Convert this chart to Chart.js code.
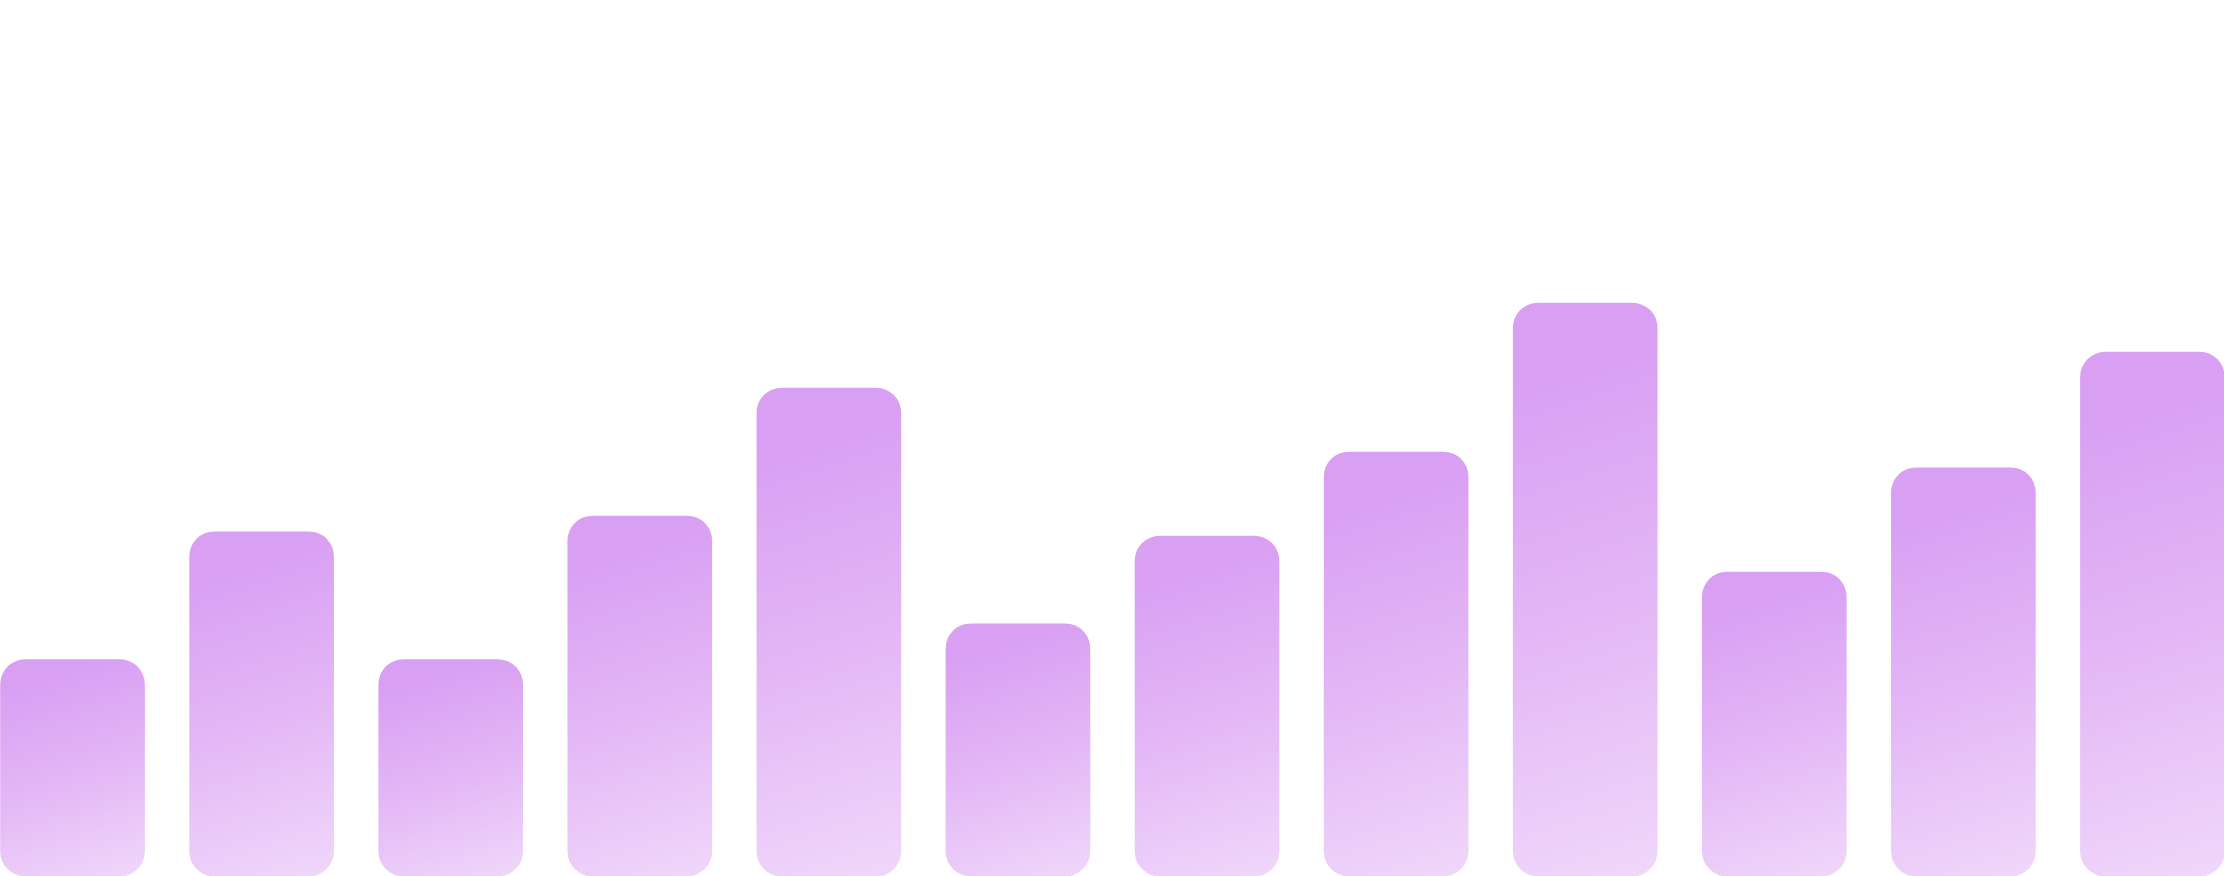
<!DOCTYPE html>
<html>
<head>
<meta charset="utf-8">
<script src="https://cdn.jsdelivr.net/npm/chart.js@4/dist/chart.umd.min.js"></script>
<style>
html,body{margin:0;padding:0;background:#fff;overflow:hidden;width:2224px;height:876px;}
#wrap{position:absolute;left:-22.5px;top:0;width:2269px;height:876px;}
</style>
</head>
<body>
<div id="wrap"><canvas id="bar"></canvas></div>
<script>
// twelve bars, no axes shown
const meses=["Ene","Feb","Mar","Abr","May","Jun","Jul","Ago","Sep","Oct","Nov","Dic"];
const valores=[24.7,39.3,24.7,41.1,55.7,28.8,38.8,48.4,65.4,34.7,46.6,59.8];
const yMax=100;

const colorArriba="#d99ff3";
const colorMedio="#e2b4f5";
const colorAbajo="#f0d7fa";

function degradado(ctx){
  let chart=ctx.chart;
  if(!chart.chartArea || ctx.type!=="data") return colorArriba;
  let x=chart.scales.x, y=chart.scales.y;
  let cx=x.getPixelForValue(ctx.dataIndex);
  let top=y.getPixelForValue(valores[ctx.dataIndex]);
  let bottom=y.getPixelForValue(0);
  let h=bottom-top, w=144;
  let ang=18*Math.PI/180;
  let dx=Math.sin(ang), dy=Math.cos(ang);
  let len=h*dy+w*dx;
  let cy=(top+bottom)/2;
  let g=chart.ctx.createLinearGradient(cx-dx*len/2,cy-dy*len/2,cx+dx*len/2,cy+dy*len/2);
  g.addColorStop(0,colorArriba);
  g.addColorStop(0.12,colorArriba);
  g.addColorStop(0.5,colorMedio);
  g.addColorStop(1,colorAbajo);
  return g;
}

new Chart(document.getElementById("bar"),{
  type:"bar",
  data:{
    labels:meses,
    datasets:[{
      data:valores,
      backgroundColor:degradado,
      borderRadius:25,
      borderSkipped:false,
      barThickness:144
    }]
  },
  options:{
    responsive:true,
    maintainAspectRatio:false,
    animation:false,
    layout:{padding:0},
    plugins:{legend:{display:false},tooltip:{enabled:false}},
    scales:{
      x:{display:false,offset:true,grid:{display:false}},
      y:{display:false,min:0,max:yMax,grid:{display:false}}
    }
  }
});
</script>
</body>
</html>
